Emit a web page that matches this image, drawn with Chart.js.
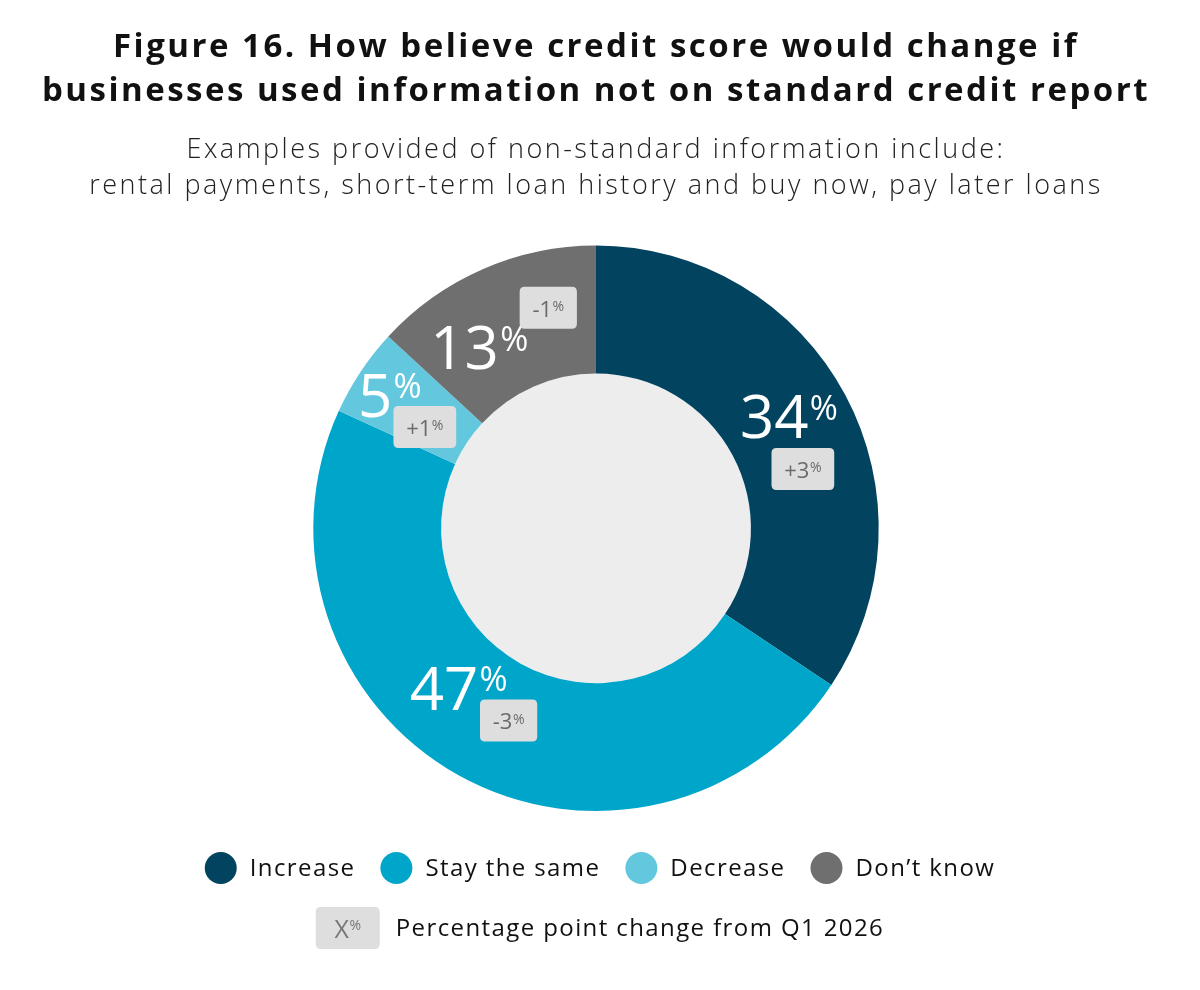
<!DOCTYPE html>
<html>
<head>
<meta charset="utf-8">
<script src="https://cdn.jsdelivr.net/npm/chart.js@4.4.1/dist/chart.umd.min.js"></script>
<style>
  html, body { margin: 0; padding: 0; background: #ffffff; }
  #wrap { width: 1200px; height: 990px; position: relative; }
</style>
</head>
<body>
<div id="wrap"><canvas id="c"></canvas></div>
<script>
// ---- Data ----
const categories = ['Increase', 'Stay the same', 'Decrease', "Don\u2019t know"];
const shares = [34, 47, 5, 13];
const changes = [3, -3, 1, -1];
const titleLines = ['Figure 16. How believe credit score would change if', 'businesses used information not on standard credit report'];
const subtitleLines = ['Examples provided of non-standard information include:', 'rental payments, short-term loan history and buy now, pay later loans'];
const changeLegendText = 'Percentage point change from Q1 2026';

// ---- Styles ----
const colors = ['#02445f', '#00a5ca', '#63c8de', '#6f6f6f'];
const FONT = '"Open Sans", "DejaVu Sans", sans-serif';
// label nudges (px) relative to the slice mid point, and change-box offset relative to the number
const labelShift = [[0, -8], [-31, -31], [-24, -12], [-29, 20]];
const boxShift = [[14, 52], [50, 32], [35, 32], [69, -40]];

const spacing = {
  id: 'spacing',
  beforeDraw(chart) { chart.ctx.letterSpacing = '2.5px'; },
  beforeDatasetsDraw(chart) { chart.ctx.letterSpacing = '0px'; }
};

const centerFill = {
  id: 'centerFill',
  beforeDatasetsDraw(chart) {
    const arc = chart.getDatasetMeta(0).data[0];
    if (!arc) return;
    const { x, y, innerRadius } = arc.getProps(['x', 'y', 'innerRadius'], true);
    const ctx = chart.ctx;
    ctx.save();
    ctx.beginPath();
    ctx.arc(x, y, innerRadius, 0, Math.PI * 2);
    ctx.fillStyle = '#ededed';
    ctx.fill();
    ctx.restore();
  }
};

function roundRect(ctx, x, y, w, h, r) {
  ctx.beginPath();
  ctx.moveTo(x + r, y);
  ctx.lineTo(x + w - r, y);
  ctx.quadraticCurveTo(x + w, y, x + w, y + r);
  ctx.lineTo(x + w, y + h - r);
  ctx.quadraticCurveTo(x + w, y + h, x + w - r, y + h);
  ctx.lineTo(x + r, y + h);
  ctx.quadraticCurveTo(x, y + h, x, y + h - r);
  ctx.lineTo(x, y + r);
  ctx.quadraticCurveTo(x, y, x + r, y);
  ctx.closePath();
}

// draws "main" + superscript "%" centered at (cx, cy)
function drawSup(ctx, main, cx, cy, size, supSize, color, weight) {
  ctx.font = `${weight} ${size}px ${FONT}`;
  const w1 = ctx.measureText(main).width;
  ctx.font = `${weight} ${supSize}px ${FONT}`;
  const w2 = ctx.measureText('%').width;
  const gap = size * 0.02;
  const total = w1 + w2 + gap;
  const x0 = cx - total / 2;
  const cap = size * 0.714;
  const base = cy + cap / 2;
  ctx.fillStyle = color;
  ctx.textAlign = 'left';
  ctx.textBaseline = 'alphabetic';
  ctx.font = `${weight} ${size}px ${FONT}`;
  ctx.fillText(main, x0, base);
  ctx.font = `${weight} ${supSize}px ${FONT}`;
  ctx.fillText('%', x0 + w1 + gap, base - cap + supSize * 0.714);
  return total;
}

const sliceLabels = {
  id: 'sliceLabels',
  afterDatasetsDraw(chart) {
    const ctx = chart.ctx;
    const meta = chart.getDatasetMeta(0);
    const values = chart.data.datasets[0].data;
    meta.data.forEach((arc, i) => {
      const p = arc.getProps(['x', 'y', 'startAngle', 'endAngle', 'innerRadius', 'outerRadius'], true);
      const mid = (p.startAngle + p.endAngle) / 2;
      const r = (p.innerRadius + p.outerRadius) / 2;
      const cx = p.x + Math.cos(mid) * r + labelShift[i][0];
      const cy = p.y + Math.sin(mid) * r + labelShift[i][1];
      ctx.save();
      ctx.letterSpacing = '0px';
      drawSup(ctx, String(values[i]), cx, cy, 60, 34, '#ffffff', 400);
      // change box
      const bx = cx + boxShift[i][0];
      const by = cy + boxShift[i][1];
      const v = changes[i];
      const txt = (v > 0 ? '+' : '-') + Math.abs(v);
      ctx.font = `500 22px ${FONT}`;
      const tw = ctx.measureText(txt).width;
      ctx.font = `500 14px ${FONT}`;
      const pw = ctx.measureText('%').width;
      const bw = tw + pw + 26;
      const bh = 42;
      ctx.fillStyle = '#dedede';
      roundRect(ctx, bx - bw / 2, by - bh / 2, bw, bh, 5);
      ctx.fill();
      drawSup(ctx, txt, bx, by + 1, 22, 14, '#6a6a6a', 500);
      ctx.restore();
    });
  }
};

const customLegend = {
  id: 'customLegend',
  afterDraw(chart) {
    const ctx = chart.ctx;
    ctx.save();
    ctx.letterSpacing = '1.4px';
    const fs = 24;
    ctx.font = `400 ${fs}px ${FONT}`;
    const rad = 16, gapText = 13, gapItem = 25;
    const widths = categories.map(c => 2 * rad + gapText + ctx.measureText(c).width);
    const total = widths.reduce((a, b) => a + b, 0) + gapItem * (categories.length - 1);
    let x = chart.width / 2 - total / 2;
    const y = 868;
    categories.forEach((c, i) => {
      ctx.beginPath();
      ctx.arc(x + rad, y, rad, 0, Math.PI * 2);
      ctx.fillStyle = colors[i];
      ctx.fill();
      ctx.fillStyle = '#111111';
      ctx.textAlign = 'left';
      ctx.textBaseline = 'middle';
      ctx.fillText(c, x + 2 * rad + gapText, y + 1);
      x += widths[i] + gapItem;
    });
    // second row: change box key
    const y2 = 928;
    const bw = 64, bh = 42;
    ctx.font = `400 ${fs}px ${FONT}`;
    const tw = ctx.measureText(changeLegendText).width;
    const total2 = bw + 16 + tw;
    const x2 = chart.width / 2 - total2 / 2;
    ctx.fillStyle = '#dedede';
    roundRect(ctx, x2, y2 - bh / 2, bw, bh, 5);
    ctx.fill();
    ctx.letterSpacing = '0px';
    drawSup(ctx, 'X', x2 + bw / 2, y2 + 1, 25, 14, '#777777', 400);
    ctx.letterSpacing = '1.4px';
    ctx.font = `400 ${fs}px ${FONT}`;
    ctx.fillStyle = '#111111';
    ctx.textAlign = 'left';
    ctx.textBaseline = 'middle';
    ctx.fillText(changeLegendText, x2 + bw + 16, y2 + 1);
    ctx.restore();
  }
};

new Chart(document.getElementById('c'), {
  type: 'doughnut',
  data: {
    labels: categories,
    datasets: [{
      data: shares,
      backgroundColor: colors,
      borderWidth: 0,
      hoverOffset: 0
    }]
  },
  options: {
    responsive: true,
    maintainAspectRatio: false,
    animation: false,
    cutout: '54.8%',
    layout: { padding: { left: 0, right: 8, top: 0, bottom: 179 } },
    plugins: {
      legend: { display: false },
      tooltip: { enabled: false },
      title: {
        display: true,
        text: titleLines,
        color: '#111111',
        font: { family: FONT, size: 33, weight: 'bold', lineHeight: 1.33 },
        padding: { top: 26, bottom: 0 }
      },
      subtitle: {
        display: true,
        text: subtitleLines,
        color: '#222222',
        font: { family: FONT, size: 27, weight: 300, lineHeight: 1.33 },
        padding: { top: 19, bottom: 41 }
      }
    }
  },
  plugins: [spacing, centerFill, sliceLabels, customLegend]
});
</script>
</body>
</html>
